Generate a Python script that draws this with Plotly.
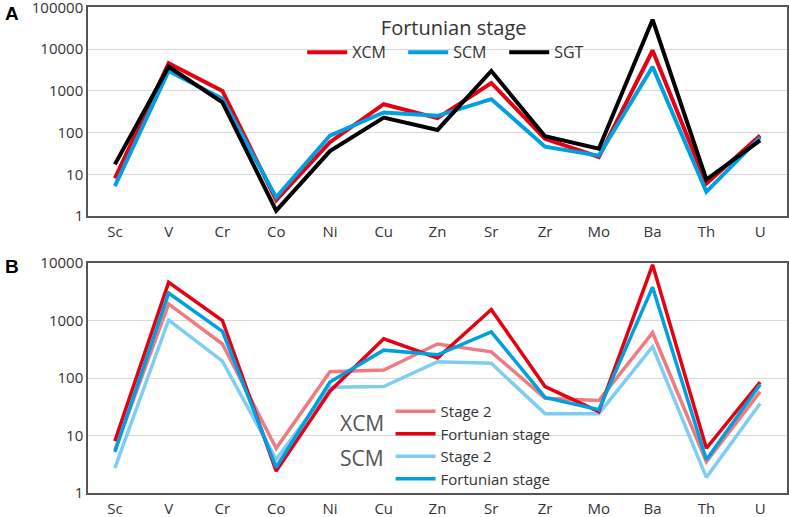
"""Trace element plots (A: Fortunian stage, B: Stage 2 vs Fortunian)."""

import plotly.graph_objects as go
from plotly.subplots import make_subplots

# ---- data ----
elements = ['Sc', 'V', 'Cr', 'Co', 'Ni', 'Cu', 'Zn', 'Sr', 'Zr', 'Mo', 'Ba', 'Th', 'U']

# Panel A: Fortunian stage
xcm_fortunian = [8.0, 4600, 1000, 2.4, 59, 480, 223, 1550, 71, 26, 9300, 6.0, 85]
scm_fortunian = [5.2, 3000, 650, 2.8, 85, 305, 253, 635, 46, 28, 3800, 3.8, 77]
sgt_fortunian = [17.3, 3800, 530, 1.34, 36, 230, 116, 3000, 82, 41, 51000, 7.5, 65]

# Panel B: Stage 2
xcm_stage2 = [5.6, 1940, 390, 6.0, 129, 138, 390, 285, 44.5, 40.5, 612, 3.5, 58]
scm_stage2 = [2.7, 1020, 197, 3.85, 69, 71, 192, 180, 24, 24, 350, 1.87, 36]

ticks_a = [1, 10, 100, 1000, 10000, 100000]
ticks_b = [1, 10, 100, 1000, 10000]

RED = '#e60012'
BLUE = '#00a0e0'
LIGHT_RED = '#ef7b80'
LIGHT_BLUE = '#80cdf2'
FONT = 'Open Sans'
TXT = '#333333'

fig = make_subplots(rows=2, cols=1)

# panel A
for name, vals, col in [('XCM', xcm_fortunian, RED),
                        ('SCM', scm_fortunian, BLUE),
                        ('SGT', sgt_fortunian, '#000000')]:
    fig.add_trace(go.Scatter(x=elements, y=vals, mode='lines', name=name,
                             line=dict(color=col, width=4), legend='legend'),
                  row=1, col=1)

# panel B
for name, vals, col, rank in [('Stage 2', xcm_stage2, LIGHT_RED, 1),
                              ('Stage 2', scm_stage2, LIGHT_BLUE, 3),
                              ('Fortunian stage', xcm_fortunian, RED, 2),
                              ('Fortunian stage', scm_fortunian, BLUE, 4)]:
    fig.add_trace(go.Scatter(x=elements, y=vals, mode='lines', name=name,
                             line=dict(color=col, width=3.5), legend='legend2',
                             legendrank=rank),
                  row=2, col=1)

axis_common = dict(showline=True, mirror=True, linecolor='#555555', linewidth=1.5,
                   automargin=False, ticklabeloverflow='allow',
                   tickfont=dict(family=FONT, size=15, color=TXT))

fig.update_xaxes(range=[-0.5, 12.5], showgrid=False, ticks='outside', ticklen=1,
                 tickcolor='rgba(0,0,0,0)', **axis_common)
fig.update_yaxes(type='log', showgrid=True, gridcolor='#d9d9d9', gridwidth=1,
                 ticks='', zeroline=False, **axis_common)

fig.update_xaxes(domain=[0.1115, 0.9975], row=1, col=1)
fig.update_xaxes(domain=[0.1115, 0.9975], row=2, col=1)
fig.update_yaxes(domain=[0.5822, 0.9855], range=[0, 5], tickvals=ticks_a,
                 ticktext=[str(t) for t in ticks_a], row=1, col=1)
fig.update_yaxes(domain=[0.0464, 0.4913], range=[0, 4], tickvals=ticks_b,
                 ticktext=[str(t) for t in ticks_b], row=2, col=1)

fig.update_layout(
    width=789, height=517,
    margin=dict(l=0, r=0, t=0, b=0),
    paper_bgcolor='white', plot_bgcolor='white',
    font=dict(family=FONT, color=TXT),
    legend=dict(orientation='h', x=0.383, y=0.982, xanchor='left', yanchor='top',
                bgcolor='rgba(0,0,0,0)', itemwidth=40,
                entrywidth=46, entrywidthmode='pixels',
                font=dict(family=FONT, size=16, color=TXT),
                title=dict(text='Fortunian stage', side='top center',
                           font=dict(family=FONT, size=20, color=TXT))),
    legend2=dict(orientation='v', x=0.495, y=0.236, xanchor='left', yanchor='top',
                 bgcolor='rgba(0,0,0,0)', itemwidth=40, tracegroupgap=0,
                 font=dict(family=FONT, size=15, color=TXT)),
    annotations=[
        dict(text='<b>A</b>', x=0.004, y=0.974, xref='paper', yref='paper',
             xanchor='left', yanchor='middle', showarrow=False,
             font=dict(family='Liberation Sans', size=19, color='black')),
        dict(text='<b>B</b>', x=0.004, y=0.4836, xref='paper', yref='paper',
             xanchor='left', yanchor='middle', showarrow=False,
             font=dict(family='Liberation Sans', size=19, color='black')),
        dict(text='XCM', x=0.459, y=0.182, xref='paper', yref='paper',
             xanchor='center', yanchor='middle',
             showarrow=False, font=dict(family=FONT, size=21, color='#555555')),
        dict(text='SCM', x=0.459, y=0.114, xref='paper', yref='paper',
             xanchor='center', yanchor='middle',
             showarrow=False, font=dict(family=FONT, size=21, color='#555555')),
    ],
)

fig.write_html("out.html", config={'displayModeBar': False},
               post_script="document.body.style.margin = '0';")
